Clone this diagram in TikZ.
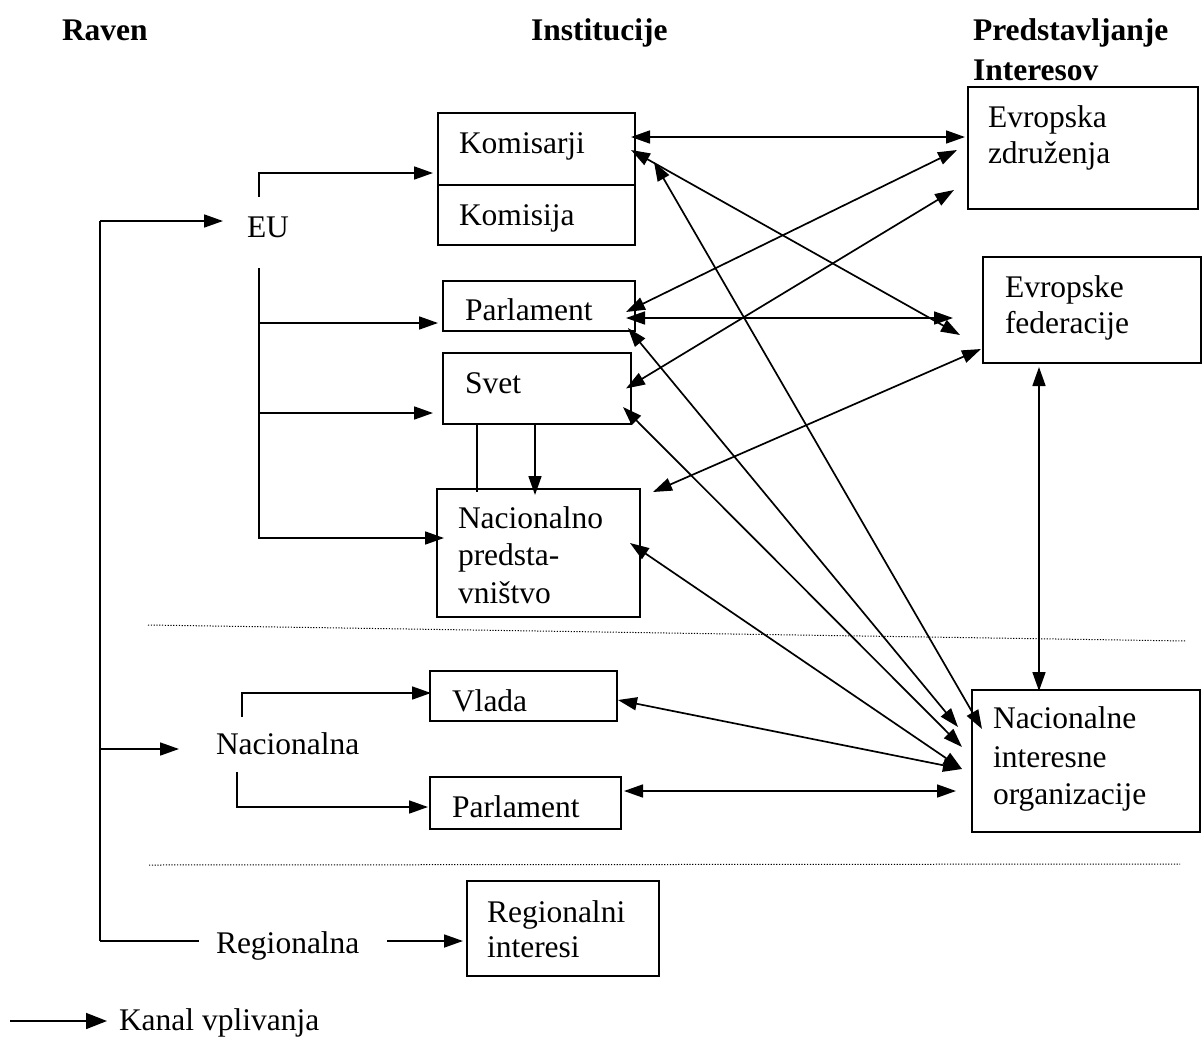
\documentclass[tikz,border=0pt]{standalone}
\usepackage{fontspec}
\setmainfont{Liberation Serif}
\usetikzlibrary{arrows.meta}
\begin{document}
\begin{tikzpicture}[x=1pt,y=-1pt,
  box/.style={draw, line width=1.7pt, rectangle, inner sep=0pt, outer sep=0pt, anchor=north west},
  txt/.style={inner sep=0pt, outer sep=0pt, anchor=base west, font=\fontsize{31.5}{37.5}\selectfont},
  hdr/.style={txt, font=\fontsize{31.5}{37.5}\selectfont\bfseries},
  conn/.style={line width=1.7pt},
  arr/.style={conn, -{Triangle[length=19pt,width=13pt]}},
  dbl/.style={conn, {Triangle[length=19pt,width=13pt]}-{Triangle[length=19pt,width=13pt]}},
  sep/.style={line width=1pt, dash pattern=on 1.2pt off 1.6pt}
]
\useasboundingbox (0,0) rectangle (1203,1037);

% headings
\node[hdr] (hRaven) at (62,40) {Raven};
\node[hdr] (hInst) at (531,40) {Institucije};
\node[hdr] (hPred1) at (973,40) {Predstavljanje};
\node[hdr] (hPred2) at (973,80) {Interesov};

% boxes
\node[box, minimum width=197pt, minimum height=72pt] (kom) at (438,113) {};
\node[box, minimum width=197pt, minimum height=60pt] (komisija) at (438,185) {};
\node[box, minimum width=230pt, minimum height=122pt] (ez) at (968,87) {};
\node[box, minimum width=192pt, minimum height=50pt] (parl) at (443,281) {};
\node[box, minimum width=188pt, minimum height=71pt] (svet) at (443,353) {};
\node[box, minimum width=218pt, minimum height=106pt] (ef) at (983,257) {};
\node[box, minimum width=203pt, minimum height=128pt] (nac) at (437,489) {};
\node[box, minimum width=187pt, minimum height=50pt] (vlada) at (430,671) {};
\node[box, minimum width=191pt, minimum height=52pt] (parln) at (430,777) {};
\node[box, minimum width=228pt, minimum height=142pt] (nio) at (972,690) {};
\node[box, minimum width=192pt, minimum height=95pt] (reg) at (467,881) {};

% texts
\node[txt] (tKom) at (459,153) {Komisarji};
\node[txt] (tKomisija) at (459,225) {Komisija};
\node[txt] (tEz1) at (988,127) {Evropska};
\node[txt] (tEz2) at (988,163) {združenja};
\node[txt] (eu) at (247,237) {EU};
\node[txt] (tParl) at (465,320) {Parlament};
\node[txt] (tSvet) at (465,393) {Svet};
\node[txt] (tEf1) at (1005,297) {Evropske};
\node[txt] (tEf2) at (1005,333) {federacije};
\node[txt] (tNac1) at (458,528) {Nacionalno};
\node[txt] (tNac2) at (458,565) {predsta-};
\node[txt] (tNac3) at (458,603) {vništvo};
\node[txt] (tVlada) at (452,711) {Vlada};
\node[txt] (natl) at (216,754) {Nacionalna};
\node[txt] (tParln) at (452,817) {Parlament};
\node[txt] (tNio1) at (993,728) {Nacionalne};
\node[txt] (tNio2) at (993,767) {interesne};
\node[txt] (tNio3) at (993,804) {organizacije};
\node[txt] (tReg1) at (487,922) {Regionalni};
\node[txt] (tReg2) at (487,957) {interesi};
\node[txt] (regl) at (216,953) {Regionalna};
\node[txt] (kanal) at (119,1030) {Kanal vplivanja};

% separators
\draw[sep] (148,625) -- (1186,641);
\draw[sep] (149,865) -- (1180,864);

% left spine
\coordinate (spTop) at (100,221);
\coordinate (spNat) at (100,749);
\coordinate (spBot) at (100,941);
\draw[conn] (spTop) -- (spBot);
\draw[arr] (spTop) -- ([shift={(-24,-16)}]eu.base west);
\draw[arr] (spNat) -- ([shift={(-37,-5)}]natl.base west);
\draw[conn] (spBot) -- ([shift={(-17,-12)}]regl.base west);
\draw[arr] ([shift={(28,-12)}]regl.base east) -- ([shift={(-4,12.5)}]reg.west);

% EU branches
\draw[arr] ([shift={(12,-40)}]eu.base west) |- ([shift={(-5,24)}]kom.west);
\coordinate (euBot) at ([shift={(12,31)}]eu.base west);
\draw[arr] (euBot) |- ([shift={(7,-15)}]nac.west);
\coordinate (tipParl) at ([shift={(-5,17)}]parl.west);
\draw[arr] (tipParl -| euBot) -- (tipParl);
\coordinate (tipSvet) at ([shift={(-10,24.5)}]svet.west);
\draw[arr] (tipSvet -| euBot) -- (tipSvet);

% Svet -> Nacionalno
\draw[conn] ([xshift=34pt]svet.south west) -- ([xshift=40pt,yshift=-3pt]nac.north west);
\draw[arr] ([xshift=92pt]svet.south west) -- ([xshift=98pt,yshift=-6pt]nac.north west);

% Nacionalna branches
\draw[arr] ([shift={(26,-37)}]natl.base west) |- ([shift={(1,-3)}]vlada.west);
\draw[arr] ([shift={(21,18)}]natl.base west) |- ([shift={(-2,4)}]parln.west);

% interest links
\draw[dbl] ([shift={(-4,-12)}]kom.east) -- ([shift={(-3,-11)}]ez.west);
\draw[dbl] ([shift={(-9,6)}]parl.east) -- ([shift={(-11,2)}]ez.west);
\draw[dbl] ([shift={(-5,0)}]svet.east) -- ([shift={(-14,42)}]ez.west);
\draw[dbl] ([shift={(-4,1)}]kom.east) -- ([shift={(-23,25)}]ef.west);
\draw[dbl] ([shift={(-9,12)}]parl.east) -- ([shift={(-30,8)}]ef.west);
\draw[dbl] ([shift={(13,3)}]nac.north east) -- ([shift={(-2,39)}]ef.west);
\draw[dbl] ([shift={(56,4)}]ef.south west) -- ([shift={(67,1)}]nio.north west);
\draw[dbl] ([shift={(19,13)}]kom.east) -- ([shift={(10,-32)}]nio.west);
\draw[dbl] ([shift={(-7,22)}]parl.east) -- ([shift={(-14,-34)}]nio.west);
\draw[dbl] ([shift={(-8,18.5)}]svet.east) -- ([shift={(-10,-14)}]nio.west);
\draw[dbl] ([shift={(-10,-10)}]nac.east) -- ([shift={(-10,8)}]nio.west);
\draw[dbl] ([shift={(1,4)}]vlada.east) -- ([shift={(-10,8)}]nio.west);
\draw[dbl] ([shift={(3,-12)}]parln.east) -- ([shift={(-16,30)}]nio.west);

% legend
\coordinate (lgA) at (10,1021);
\draw[conn, -{Triangle[length=21pt,width=16pt]}] (lgA) -- ([shift={(-12,-9)}]kanal.base west);
\end{tikzpicture}
\end{document}
